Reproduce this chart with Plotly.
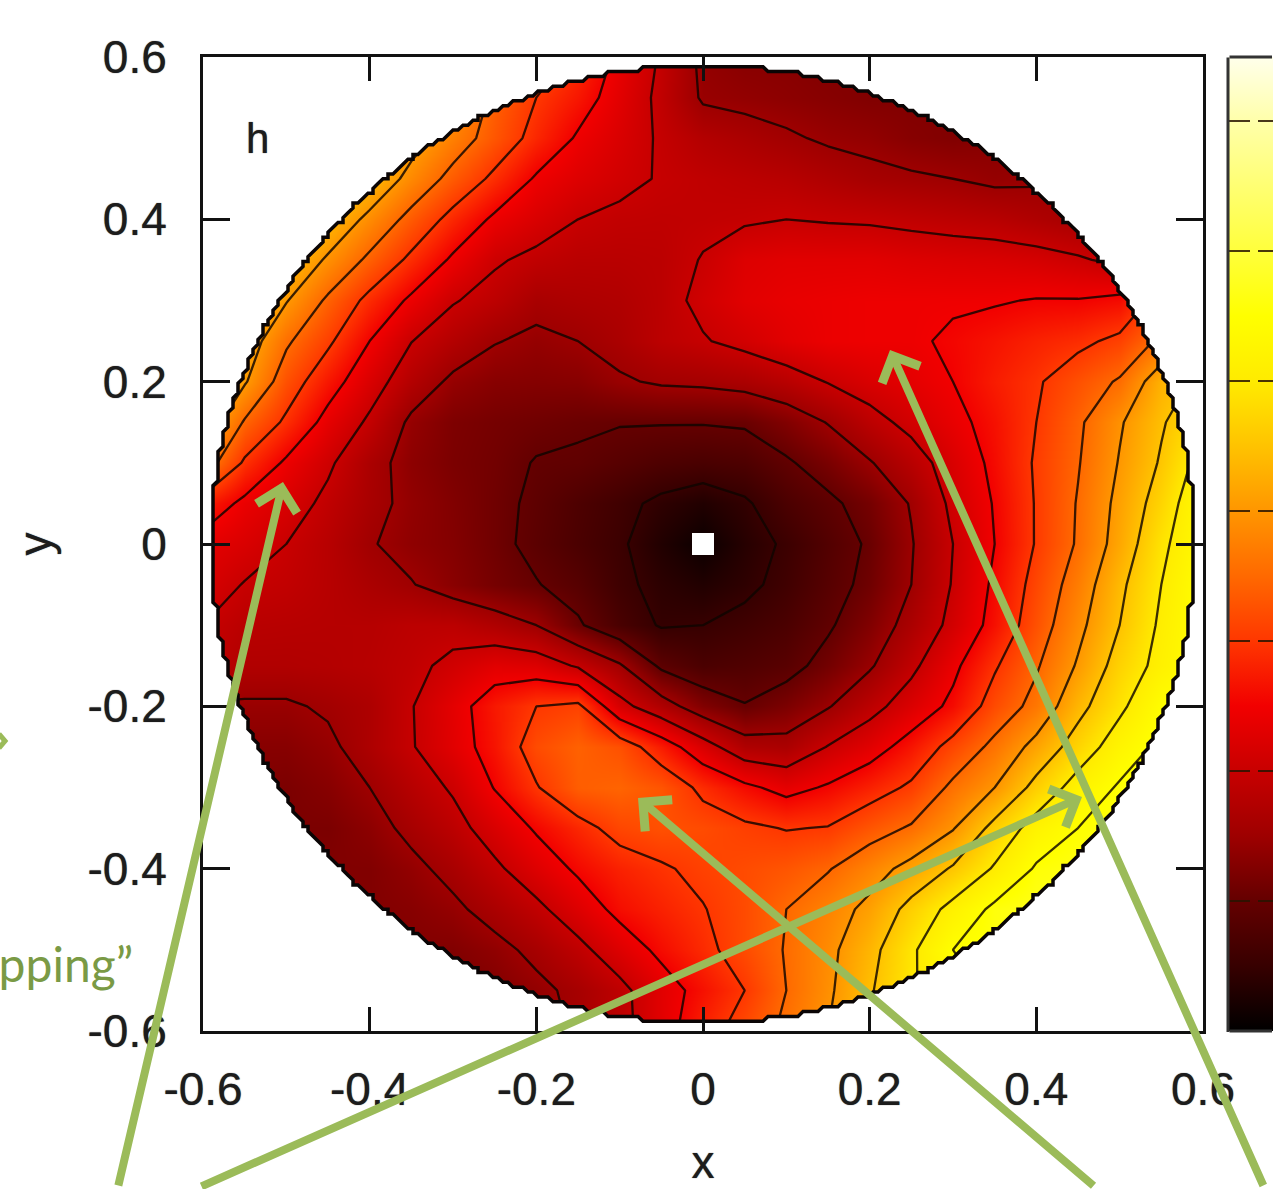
import numpy as np
import plotly.graph_objects as go

x_values = [-0.60,-0.55,-0.50,-0.45,-0.40,-0.35,-0.30,-0.25,-0.20,-0.15,-0.10,-0.05,0.00,
            0.05,0.10,0.15,0.20,0.25,0.30,0.35,0.40,0.45,0.50,0.55,0.60]
y_values = [0.60,0.55,0.50,0.45,0.40,0.35,0.30,0.25,0.20,0.15,0.10,0.05,0.00,
            -0.05,-0.10,-0.15,-0.20,-0.25,-0.30,-0.35,-0.40,-0.45,-0.50,-0.55,-0.60]
h_values = [
[5.5,5.5,5.5,5.5,5.0,4.8,4.4,3.8,3.3,2.9,2.4,1.95,1.4,1.3,1.3,1.25,1.25,1.25,1.25,1.3,1.4,1.6,2.0,2.5,3.0],
[5.5,5.5,5.5,5.2,4.9,4.5,4.0,3.4,3.0,2.7,2.3,1.9,1.45,1.4,1.35,1.3,1.25,1.25,1.25,1.3,1.4,1.6,2.0,2.5,3.0],
[5.5,5.4,5.2,5.0,4.6,4.2,3.75,3.3,2.85,2.45,2.2,1.95,1.75,1.65,1.55,1.45,1.4,1.3,1.25,1.3,1.4,1.6,2.0,2.5,3.0],
[5.5,5.3,5.1,4.8,4.4,3.85,3.35,2.9,2.45,2.25,2.1,1.97,1.9,1.85,1.8,1.7,1.6,1.55,1.5,1.42,1.45,1.6,1.7,1.8,2.0],
[5.4,5.2,4.9,4.4,3.88,3.35,2.85,2.42,2.2,2.0,1.92,1.9,1.92,1.95,2.0,1.97,1.95,1.9,1.85,1.8,1.7,1.6,1.6,1.6,1.8],
[5.2,4.9,4.45,3.93,3.4,2.9,2.43,2.05,1.9,1.82,1.82,1.85,2.02,2.25,2.3,2.3,2.3,2.25,2.22,2.2,2.15,2.05,1.9,2.0,2.6],
[5.0,4.7,4.03,3.42,2.87,2.42,2.03,1.85,1.62,1.68,1.72,1.85,2.1,2.3,2.38,2.42,2.45,2.45,2.46,2.47,2.52,2.52,2.6,3.2,3.5],
[5.0,4.3,3.57,3.08,2.5,2.01,1.75,1.52,1.42,1.5,1.65,1.85,1.97,2.12,2.3,2.42,2.45,2.45,2.55,2.67,2.8,2.9,3.1,3.6,4.0],
[4.6,4.05,3.25,2.7,2.2,1.75,1.42,1.3,1.28,1.3,1.45,1.55,1.58,1.65,1.8,2.02,2.2,2.33,2.5,2.75,2.95,3.25,3.55,4.3,4.6],
[4.4,3.45,2.92,2.35,1.93,1.42,1.22,1.15,1.1,1.05,1.02,1.02,1.02,1.05,1.25,1.52,1.85,2.12,2.38,2.65,3.0,3.42,3.95,4.45,4.9],
[3.8,2.93,2.43,2.07,1.65,1.35,1.2,1.12,0.98,0.95,0.85,0.75,0.7,0.75,0.95,1.18,1.47,1.8,2.2,2.6,3.05,3.47,4.03,4.55,5.2],
[2.8,2.4,2.2,1.9,1.62,1.4,1.25,1.1,0.93,0.75,0.6,0.42,0.3,0.45,0.72,0.92,1.15,1.53,2.1,2.53,3.03,3.53,4.13,4.72,5.4],
[2.35,2.2,2.0,1.8,1.53,1.37,1.27,1.1,0.9,0.72,0.55,0.3,0.1,0.35,0.55,0.8,1.05,1.47,2.0,2.5,3.03,3.55,4.2,4.9,5.4],
[2.2,1.98,1.92,1.8,1.65,1.52,1.32,1.15,1.02,0.85,0.58,0.4,0.3,0.42,0.6,0.85,1.1,1.5,2.03,2.58,3.15,3.72,4.4,5.0,5.5],
[2.0,1.82,1.8,1.78,1.78,1.85,1.85,1.7,1.5,1.05,0.7,0.47,0.5,0.6,0.72,0.95,1.25,1.65,2.12,2.65,3.25,3.87,4.5,5.08,5.5],
[1.9,1.72,1.72,1.75,1.8,1.9,2.1,2.3,2.25,1.95,1.55,0.92,0.72,0.78,0.87,1.13,1.45,1.9,2.4,2.95,3.45,4.05,4.7,5.15,5.5],
[1.45,1.45,1.45,1.55,1.68,1.98,2.33,2.72,3.0,3.1,2.15,1.7,1.25,1.02,1.2,1.47,1.85,2.22,2.6,3.2,3.65,4.35,4.9,5.45,5.6],
[1.4,1.3,1.3,1.42,1.68,1.97,2.3,2.68,3.2,3.42,3.25,2.75,2.2,1.7,1.65,2.02,2.3,2.68,3.15,3.62,4.15,4.72,5.25,5.6,5.6],
[1.3,1.25,1.2,1.3,1.5,1.78,2.05,2.52,2.97,3.38,3.45,3.3,2.9,2.6,2.35,2.55,2.8,3.07,3.6,4.0,4.65,5.2,5.55,5.7,5.7],
[1.3,1.25,1.2,1.2,1.35,1.6,1.85,2.2,2.55,2.85,3.15,3.25,3.2,3.08,2.98,3.02,3.3,3.55,3.97,4.65,5.2,5.5,5.65,5.7,5.7],
[1.3,1.3,1.3,1.25,1.25,1.4,1.62,1.92,2.25,2.57,2.8,2.95,3.1,3.2,3.3,3.47,3.8,4.15,4.55,5.05,5.55,5.65,5.7,5.7,5.7],
[1.3,1.3,1.35,1.3,1.25,1.3,1.42,1.65,1.9,2.25,2.62,2.8,2.98,3.2,3.5,3.78,4.12,4.65,5.15,5.6,5.7,5.7,5.7,5.7,5.7],
[1.3,1.3,1.3,1.3,1.3,1.25,1.25,1.38,1.6,1.88,2.25,2.6,2.88,3.2,3.53,3.88,4.35,4.92,5.5,5.6,5.7,5.7,5.7,5.7,5.7],
[1.3,1.3,1.3,1.3,1.3,1.2,1.15,1.25,1.4,1.6,1.88,2.3,2.65,3.0,3.5,3.92,4.45,4.95,5.3,5.6,5.7,5.7,5.7,5.7,5.7],
[1.3,1.3,1.3,1.3,1.3,1.2,1.2,1.2,1.35,1.55,1.85,2.3,2.8,3.2,3.6,4.0,4.5,5.0,5.4,5.6,5.7,5.7,5.7,5.7,5.7],
]
tick_values = [-0.6,-0.4,-0.2,0,0.2,0.4,0.6]
tick_labels = ["-0.6","-0.4","-0.2","0","0.2","0.4","0.6"]
Z_MAX = 7.49
DISC_RADIUS = 0.59
scale_values = [0,0.5,1,1.5,2,2.5,3,3.5,4,4.5,5,5.5,6,7,7.49]
scale_colors = ["rgb(0,0,0)","rgb(55,0,0)","rgb(100,0,0)","rgb(158,0,0)","rgb(200,0,0)","rgb(242,0,0)",
                "rgb(255,55,0)","rgb(255,105,0)","rgb(255,150,0)","rgb(255,195,0)","rgb(255,235,0)",
                "rgb(255,255,0)","rgb(255,255,60)","rgb(255,255,170)","rgb(255,255,235)"]
colorscale = [[v/Z_MAX, c] for v, c in zip(scale_values, scale_colors)]

FONT = "Liberation Sans"
INK = "#1c1c1c"
GREEN = "#9BBB59"
SOFT = "0 0 1px rgba(0,0,0,0.75)"
L, T, W, H = 203, 57, 1000, 974          # plot frame in page pixels
px = lambda v: (v - L) / W
py = lambda v: (T + H - v) / H

xs = x_values
ys = y_values[::-1]
zs = h_values[::-1]

fig = go.Figure()
# left part of the colour bar (the dashes are broken in two in the picture)
fig.add_trace(go.Heatmap(x=xs, y=ys, z=zs, zmin=0, zmax=Z_MAX, zsmooth="best", colorscale=colorscale,
    hoverinfo="skip",
    colorbar=dict(x=px(1228), xanchor="left", xpad=0, y=0, yanchor="bottom", ypad=0, len=1, lenmode="fraction",
                  thickness=22, thicknessmode="pixels", outlinewidth=0, tick0=0, dtick=1, ticks="inside",
                  ticklen=22, tickwidth=2, tickcolor="rgba(40,20,0,0.85)", showticklabels=False)))
fig.add_trace(go.Heatmap(x=xs, y=ys, z=zs, zmin=0, zmax=Z_MAX, zsmooth="best", colorscale=colorscale,
    hoverinfo="skip",
    colorbar=dict(x=px(1250), xanchor="left", xpad=0, y=0, yanchor="bottom", ypad=0, len=1, lenmode="fraction",
                  thickness=40, thicknessmode="pixels", outlinewidth=0, tick0=0, dtick=1, ticks="inside",
                  ticklen=32, tickwidth=2, tickcolor="rgba(40,20,0,0.85)", showticklabels=False)))
fig.add_trace(go.Contour(x=xs, y=ys, z=zs, showscale=False, hoverinfo="skip",
    contours=dict(coloring="none", start=0.5, end=5.5, size=0.5),
    line=dict(color="rgba(15,5,0,0.82)", width=2.3, smoothing=0)))

# white mask outside the disc, with its staircase edge
angles = np.radians(np.linspace(180, -180, 721))
step = 0.006
edge_x = np.round(DISC_RADIUS*np.cos(angles)/step)*step
edge_y = np.round(DISC_RADIUS*np.sin(angles)/step)*step
mask_x = [-0.6,-0.6,0.6,0.6,-0.6,-0.6] + edge_x.tolist() + [-0.6]
mask_y = [0,-0.6,-0.6,0.6,0.6,0] + edge_y.tolist() + [0]
fig.add_trace(go.Scatter(x=mask_x, y=mask_y, mode="lines", fill="toself", fillcolor="white",
                         line=dict(width=0, color="white"), hoverinfo="skip", showlegend=False))
fig.add_trace(go.Scatter(x=edge_x, y=edge_y, mode="lines", line=dict(color="#0a0505", width=3.5),
                         hoverinfo="skip", showlegend=False))
fig.add_trace(go.Scatter(x=[0], y=[0], mode="markers", hoverinfo="skip", showlegend=False,
                         marker=dict(symbol="square", size=22, color="white", line=dict(width=0))))

axis = dict(range=[-0.6,0.6], tickmode="array", tickvals=tick_values, ticktext=tick_labels, ticks="inside",
            mirror="ticks", showline=True, linecolor="#111111", linewidth=3, tickwidth=3, tickcolor="#111111",
            showgrid=False, zeroline=False, tickfont=dict(family=FONT, size=46, color=INK, shadow=SOFT))
title_font = dict(family=FONT, size=46, color=INK, shadow=SOFT)
fig.update_layout(
    width=1273, height=1189, margin=dict(l=L, r=1273-L-W, t=T, b=1189-T-H, pad=0, autoexpand=False),
    paper_bgcolor="white", plot_bgcolor="white", showlegend=False,
    xaxis=dict(axis, ticklen=24, ticklabelstandoff=16,
               title=dict(text="x", font=title_font, standoff=32)),
    yaxis=dict(axis, ticklen=27, ticklabelstandoff=24,
               title=dict(text="y", font=title_font, standoff=22)),
)

def arrow(tail, tip, head=1.0):
    fig.add_annotation(xref="paper", yref="paper", x=px(tip[0]), y=py(tip[1]), ax=tail[0]-tip[0], ay=tail[1]-tip[1],
                       text="", showarrow=True, arrowhead=4, arrowsize=head, arrowwidth=8, arrowcolor=GREEN)

arrow((118, 1187), (283, 482))
arrow((200, 1187), (1082, 797))
arrow((1095, 1187), (638, 798))
arrow((1264, 1187), (890, 350))

# tip of an arrow cut by the left page edge
fig.add_shape(type="path", xref="paper", yref="paper", line=dict(color=GREEN, width=5),
              path=f"M {px(-1)},{py(734)} L {px(5)},{py(741)} L {px(-1)},{py(748)}")

def bar_edge(a, b):
    fig.add_annotation(xref="paper", yref="paper", x=px(b[0]), y=py(b[1]), ax=a[0]-b[0], ay=a[1]-b[1],
                       text="", showarrow=True, arrowhead=0, arrowwidth=3, arrowcolor="#333333")
bar_edge((1228, 56), (1228, 1032))
bar_edge((1228, 57), (1272, 57))
bar_edge((1228, 1031), (1272, 1031))

fig.add_annotation(xref="paper", yref="paper", x=px(257), y=py(138), text="h", showarrow=False,
                   xanchor="center", yanchor="middle", font=dict(family=FONT, size=42, color=INK, shadow=SOFT))
fig.add_annotation(xref="paper", yref="paper", x=px(135), y=py(963), text="dropping”", showarrow=False,
                   xanchor="right", yanchor="middle", font=dict(family="Lato", size=48, color="#7A9A45"))

fig.write_html("out.html", config={"displayModeBar": False},
               post_script="document.body.style.margin='0';document.body.style.overflow='hidden';")
